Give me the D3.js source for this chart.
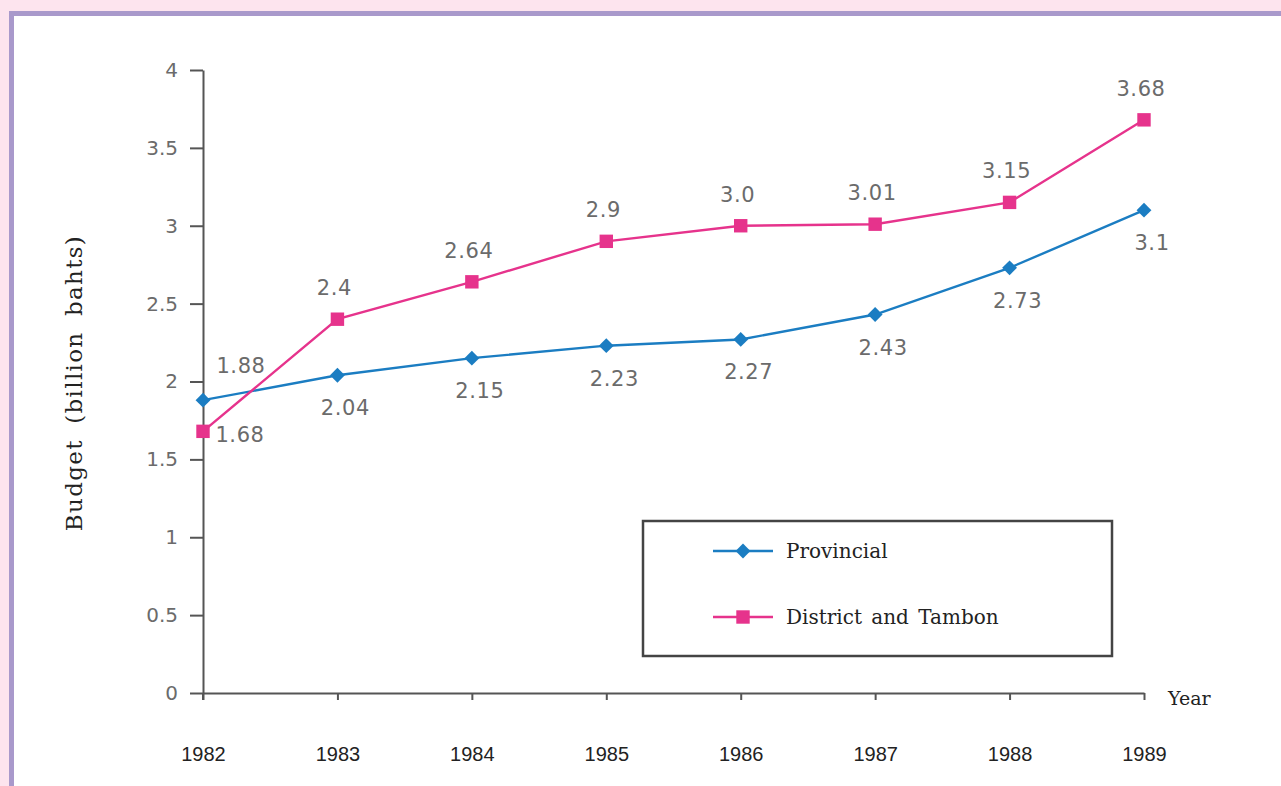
<!DOCTYPE html>
<html>
<head>
<meta charset="utf-8">
<script src="https://cdn.jsdelivr.net/npm/d3@7"></script>
<style>
  body { margin: 0; background: #fde4ee; }
  svg { display: block; }
</style>
</head>
<body>
<div id="chart"></div>
<script>
// data
var years = [1982, 1983, 1984, 1985, 1986, 1987, 1988, 1989];
var provincial = [1.88, 2.04, 2.15, 2.23, 2.27, 2.43, 2.73, 3.1];
var district = [1.68, 2.4, 2.64, 2.9, 3.0, 3.01, 3.15, 3.68];
var provincialText = ["1.88", "2.04", "2.15", "2.23", "2.27", "2.43", "2.73", "3.1"];
var districtText = ["1.68", "2.4", "2.64", "2.9", "3.0", "3.01", "3.15", "3.68"];
// where each value label sits relative to its point
var provincialPlace = ["upright", "below", "below", "below", "below", "below", "below", "below"];
var districtPlace = ["right", "above", "above", "above", "above", "above", "above", "above"];
var yTicks = [0, 0.5, 1, 1.5, 2, 2.5, 3, 3.5, 4];
var seriesNames = ["Provincial", "District and Tambon"];

var W = 1281, H = 786;
var blue = "#1b7dc2", pink = "#e6338c";

var svg = d3.select("#chart").append("svg")
    .attr("width", W)
    .attr("height", H);

// frame: pink page, purple edge, white panel
svg.append("rect").attr("x", 9).attr("y", 11).attr("width", W).attr("height", H)
    .attr("fill", "#a999cb");
svg.append("rect").attr("x", 14).attr("y", 16).attr("width", W).attr("height", H)
    .attr("fill", "#ffffff");

var x = d3.scalePoint().domain(years).range([203, 1144]);
var y = d3.scaleLinear().domain([0, 4]).range([693, 70]);

var yAxis = d3.axisLeft(y)
    .tickValues(yTicks)
    .tickFormat(d3.format("~g"))
    .tickSize(13)
    .tickSizeOuter(0)
    .tickPadding(12);

var xAxis = d3.axisBottom(x)
    .tickSize(7)
    .tickSizeOuter(0)
    .tickPadding(47);

var gy = svg.append("g")
    .attr("transform", "translate(203,0)")
    .call(yAxis);
gy.selectAll("text")
    .style("font-family", "DejaVu Sans")
    .style("font-size", "20px")
    .attr("fill", "#6b6b6b");

var gx = svg.append("g")
    .attr("transform", "translate(0,693)")
    .call(xAxis);
gx.selectAll("text")
    .style("font-family", "Liberation Sans")
    .style("font-size", "20px")
    .attr("fill", "#222");

svg.selectAll(".domain, .tick line")
    .attr("stroke", "#555")
    .attr("stroke-width", 2);

// y axis runs a little past the x axis
svg.append("line")
    .attr("x1", 203).attr("x2", 203)
    .attr("y1", y(0)).attr("y2", y(0) + 7)
    .attr("stroke", "#555").attr("stroke-width", 2);

svg.append("text")
    .attr("transform", "translate(82,383) rotate(-90)")
    .attr("text-anchor", "middle")
    .style("font-family", "DejaVu Serif")
    .style("font-size", "23px")
    .style("letter-spacing", "1.3px")
    .style("word-spacing", "7px")
    .attr("fill", "#222")
    .text("Budget (billion bahts)");

svg.append("text")
    .attr("x", 1168).attr("y", 705)
    .style("font-family", "DejaVu Serif")
    .style("font-size", "19px")
    .attr("fill", "#222")
    .text("Year");

var line = d3.line()
    .x(function(d, i) { return x(years[i]); })
    .y(function(d) { return y(d); });

var diamond = d3.symbol().type(d3.symbolSquare).size(110);
var square = d3.symbol().type(d3.symbolSquare).size(180);

var offsets = {
  above: [-3, -31],
  below: [8, 33],
  right: [37, 4],
  upright: [38, -34]
};

function drawSeries(values, texts, places, color, marker, rotate) {
  svg.append("path")
      .datum(values)
      .attr("fill", "none")
      .attr("stroke", color)
      .attr("stroke-width", 2.4)
      .attr("d", line);

  svg.selectAll(null)
      .data(values)
      .enter().append("path")
      .attr("d", marker)
      .attr("fill", color)
      .attr("transform", function(d, i) {
        return "translate(" + x(years[i]) + "," + y(d) + ")" + (rotate ? " rotate(45)" : "");
      });

  svg.selectAll(null)
      .data(values)
      .enter().append("text")
      .attr("x", function(d, i) { return x(years[i]) + offsets[places[i]][0]; })
      .attr("y", function(d, i) { return y(d) + offsets[places[i]][1]; })
      .attr("text-anchor", "middle")
      .attr("dominant-baseline", "central")
      .style("font-family", "DejaVu Sans")
      .style("font-size", "21px")
      .style("letter-spacing", "0.6px")
      .attr("fill", "#6b6b6b")
      .text(function(d, i) { return texts[i]; });
}

drawSeries(provincial, provincialText, provincialPlace, blue, diamond, true);
drawSeries(district, districtText, districtPlace, pink, square, false);

// legend
var legend = svg.append("g");
legend.append("rect")
    .attr("x", 643).attr("y", 521)
    .attr("width", 469).attr("height", 135)
    .attr("fill", "#fff")
    .attr("stroke", "#444")
    .attr("stroke-width", 2.5);

var legendColors = [blue, pink];
var legendMarkers = [diamond, square];
seriesNames.forEach(function(name, i) {
  var ly = 551 + i * 66;
  legend.append("line")
      .attr("x1", 713).attr("x2", 773)
      .attr("y1", ly).attr("y2", ly)
      .attr("stroke", legendColors[i])
      .attr("stroke-width", 2.4);
  legend.append("path")
      .attr("d", legendMarkers[i])
      .attr("fill", legendColors[i])
      .attr("transform", "translate(743," + ly + ")" + (i === 0 ? " rotate(45)" : ""));
  legend.append("text")
      .attr("x", 786).attr("y", ly)
      .attr("dominant-baseline", "central")
      .style("font-family", "DejaVu Serif")
      .style("font-size", "20px")
      .style("word-spacing", "3px")
      .attr("fill", "#222")
      .text(name);
});
</script>
</body>
</html>
